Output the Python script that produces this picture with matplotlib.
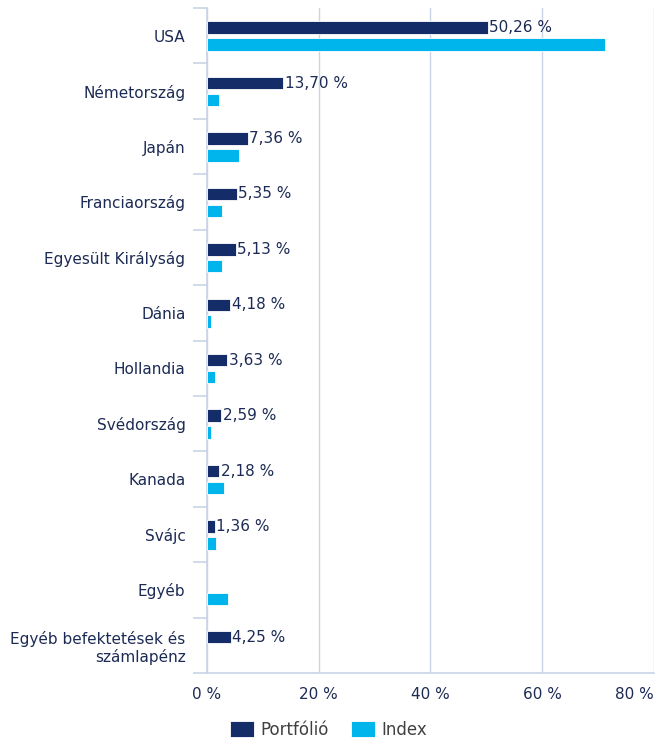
import numpy as np
import matplotlib
matplotlib.use('Agg')
import matplotlib.pyplot as plt
from matplotlib.ticker import FixedLocator, FuncFormatter

# Data
categories = ['USA', 'Németország', 'Japán', 'Franciaország', 'Egyesült Királyság',
              'Dánia', 'Hollandia', 'Svédország', 'Kanada', 'Svájc', 'Egyéb',
              'Egyéb befektetések és\nszámlapénz']
portfolio = [50.26, 13.70, 7.36, 5.35, 5.13, 4.18, 3.63, 2.59, 2.18, 1.36, np.nan, 4.25]
index = [71.2, 2.2, 5.7, 2.7, 2.7, 0.7, 1.4, 0.7, 3.0, 1.7, 3.8, np.nan]
xticks = [0, 20, 40, 60, 80]

navy = '#142d69'
cyan = '#00b4ec'
text_col = '#1c2b55'
grid_col = '#c9d4e6'

plt.rcParams['font.family'] = ['DejaVu Sans']

fig = plt.figure(figsize=(6.65, 7.47), dpi=100)
ax = fig.add_axes([207 / 665, 1 - 673 / 747, (653.7 - 207) / 665, (673 - 8) / 747])

y = np.arange(len(categories))
h = 0.225
ax.barh(y - 0.145, portfolio, height=h, color=navy, edgecolor='white', linewidth=0.6,
        label='Portfólió', zorder=3)
ax.barh(y + 0.16, index, height=h, color=cyan, edgecolor='white', linewidth=0.6,
        label='Index', zorder=3)

# value labels only for the portfolio series
for yi, v in zip(y, portfolio):
    if np.isnan(v):
        continue
    ax.annotate(f'{v:.2f} %'.replace('.', ','), (v, yi - 0.145), xytext=(1, 0),
                textcoords='offset points', va='center', ha='left',
                fontsize=11, color=text_col, zorder=4)

ax.set_xlim(0, 80)
ax.set_ylim(len(categories) - 0.5, -0.5)

ax.xaxis.set_major_locator(FixedLocator(xticks))
ax.xaxis.set_major_formatter(FuncFormatter(lambda v, p: f'{v:.0f} %'))
ax.tick_params(axis='x', length=0, pad=10, labelsize=11, labelcolor=text_col)
ax.grid(axis='x', color=grid_col, linewidth=1.0, zorder=0)

ax.set_yticks(y)
ax.set_yticklabels(categories, fontsize=11, color=text_col)
for lbl in ax.get_yticklabels():
    lbl.set_multialignment('right')
ax.tick_params(axis='y', which='major', length=0, pad=15.5)
ax.yaxis.set_minor_locator(FixedLocator(np.arange(-0.5, len(categories), 1)))
ax.tick_params(axis='y', which='minor', length=10, width=1.2, color=grid_col)

for s in ['top', 'right']:
    ax.spines[s].set_visible(False)
for s in ['left', 'bottom']:
    ax.spines[s].set_color(grid_col)
    ax.spines[s].set_linewidth(1.2)

xl = ax.get_xticklabels()
xl[-1].set_horizontalalignment('right')

leg = fig.legend(loc='center', bbox_to_anchor=(0.494, 1 - 730 / 747), ncol=2,
                 frameon=False, fontsize=12, handlelength=1.45, handleheight=1.1,
                 handletextpad=0.4, columnspacing=1.3)
for t in leg.get_texts():
    t.set_color('#404040')

fig.savefig('out.png', dpi=100)
